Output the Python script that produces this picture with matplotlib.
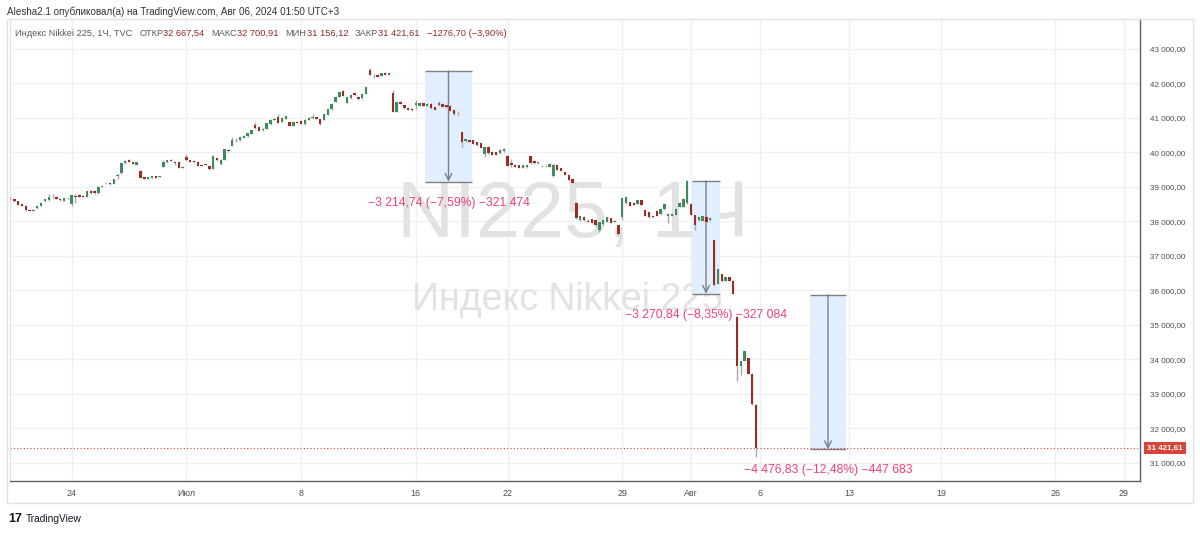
import numpy as np
import matplotlib.pyplot as plt
from matplotlib.patches import Rectangle
import matplotlib.transforms as mtransforms

# Nikkei 225 hourly bars (6 per trading day), Jun 19 (part) .. Aug 5 2024
opens = [
    38650, 38630, 38590, 38500,                      # Jun 19
    38450, 38330, 38310, 38370, 38450, 38580,        # Jun 20
    38610, 38700, 38710, 38630, 38600, 38660,        # Jun 21
    38500, 38740, 38770, 38720, 38710, 38880,        # Jun 24
    38880, 38810, 39000, 39100, 39090, 39080,        # Jun 25
    39300, 39390, 39680, 39770, 39720, 39640,        # Jun 26
    39460, 39270, 39220, 39250, 39300, 39280,        # Jun 27
    39580, 39710, 39770, 39700, 39710, 39540,        # Jun 28
    39870, 39770, 39750, 39720, 39620, 39640,        # Jul 1
    39600, 39510, 39830, 39650, 39780, 40070,        # Jul 2
    40190, 40340, 40340, 40420, 40460, 40540,        # Jul 3
    40780, 40730, 40640, 40680, 40810, 40930,        # Jul 4
    41020, 40880, 40960, 40880, 40770, 40880,        # Jul 5
    40900, 40810, 40930, 41000, 41020, 40960,        # Jul 8
    40930, 41080, 41240, 41460, 41600, 41770,        # Jul 9
    41440, 41560, 41710, 41610, 41560, 41690,        # Jul 10
    42390, 42240, 42240, 42210, 42310, 42240,        # Jul 11
    41710, 41170, 41460, 41370, 41270, 41260,        # Jul 12
    41370, 41350, 41430, 41350, 41410, 41310,        # Jul 16
    41380, 41410, 41370, 41350, 41220, 41130,        # Jul 17
    40590, 40320, 40360, 40340, 40290, 40260,        # Jul 18
    39950, 40160, 40020, 40000, 39970, 40030,        # Jul 19
    39900, 39700, 39640, 39620, 39550, 39560,        # Jul 22
    39880, 39750, 39680, 39610, 39590, 39580,        # Jul 23
    39300, 39630, 39530, 39430, 39340, 39230,        # Jul 24
    38520, 38030, 38130, 38020, 38050, 38030,        # Jul 25
    37740, 37910, 37980, 38080, 37990, 37880,        # Jul 26
    38130, 38520, 38560, 38540, 38510, 38610,        # Jul 29
    38320, 38270, 38140, 38290, 38200, 38340,        # Jul 30
    38150, 38150, 38180, 38420, 38420, 38520,        # Jul 31
    38510, 38170, 38030, 38010, 38120, 38030,        # Aug 1
    37450, 36180, 36470, 36280, 36370, 36280,        # Aug 2
    35230, 33800, 33950, 34030, 33580, 32667.54,     # Aug 5
]
highs = [
    38700, 38650, 38600, 38510,
    38460, 38350, 38340, 38460, 38550, 38650,
    38780, 38780, 38730, 38640, 38670, 38690,
    38760, 38780, 38790, 38770, 38890, 38900,
    38900, 39010, 39030, 39140, 39100, 39220,
    39400, 39690, 39760, 39800, 39730, 39720,
    39470, 39290, 39290, 39320, 39310, 39320,
    39780, 39780, 39790, 39720, 39720, 39590,
    39950, 39780, 39760, 39730, 39640, 39660,
    39620, 39920, 39840, 39800, 40090, 40090,
    40440, 40400, 40440, 40490, 40560, 40640,
    40880, 40740, 40690, 40860, 40950, 40980,
    41100, 41010, 41050, 40890, 40890, 40900,
    40920, 40950, 41010, 41100, 41030, 40970,
    41110, 41270, 41420, 41620, 41760, 41790,
    41600, 41670, 41720, 41620, 41700, 41890,
    42440, 42270, 42260, 42300, 42330, 42320,
    41790, 41470, 41480, 41380, 41290, 41270,
    41500, 41460, 41440, 41420, 41420, 41320,
    41490, 41420, 41380, 41360, 41230, 41200,
    40600, 40380, 40370, 40350, 40300, 40270,
    40150, 40170, 40030, 40010, 40080, 40110,
    39910, 39800, 39660, 39640, 39640, 39640,
    39900, 39760, 39730, 39630, 39630, 39680,
    39660, 39640, 39540, 39440, 39350, 39240,
    38560, 38150, 38140, 38050, 38060, 38040,
    37990, 38040, 38130, 38090, 38030, 37890,
    38670, 38730, 38570, 38560, 38620, 38620,
    38330, 38280, 38160, 38300, 38370, 38520,
    38230, 38230, 38370, 38550, 38660, 39200,
    38520, 38180, 38130, 38150, 38130, 38110,
    37460, 36620, 36480, 36380, 36380, 36290,
    35240, 33960, 34250, 34040, 33590, 32700.91,
]
lows = [
    38620, 38570, 38460, 38440,
    38300, 38300, 38300, 38360, 38440, 38570,
    38600, 38660, 38640, 38600, 38590, 38640,
    38450, 38520, 38700, 38690, 38700, 38800,
    38800, 38800, 38990, 39090, 39060, 39070,
    39230, 39380, 39670, 39720, 39650, 39620,
    39240, 39210, 39210, 39240, 39240, 39270,
    39570, 39700, 39740, 39640, 39530, 39530,
    39750, 39720, 39700, 39600, 39600, 39620,
    39490, 39500, 39750, 39630, 39770, 40020,
    40180, 40290, 40330, 40400, 40450, 40530,
    40670, 40610, 40620, 40670, 40800, 40920,
    40840, 40870, 40950, 40760, 40760, 40840,
    40820, 40800, 40920, 40970, 40950, 40800,
    40920, 41070, 41230, 41450, 41590, 41620,
    41430, 41550, 41640, 41520, 41550, 41680,
    42230, 42140, 42180, 42200, 42230, 42230,
    41160, 41160, 41390, 41260, 41220, 41200,
    41260, 41340, 41340, 41340, 41260, 41210,
    41340, 41310, 41290, 41190, 41070, 41090,
    40150, 40310, 40290, 40240, 40190, 40120,
    39850, 39960, 39910, 39910, 39960, 40020,
    39600, 39580, 39560, 39530, 39540, 39550,
    39660, 39670, 39670, 39570, 39570, 39570,
    39290, 39480, 39450, 39330, 39170, 39110,
    38070, 38020, 38020, 37970, 37940, 37870,
    37690, 37900, 37970, 37940, 37970, 37590,
    38030, 38510, 38430, 38460, 38500, 38460,
    38140, 38100, 38100, 38150, 38190, 38330,
    37950, 38140, 38170, 38410, 38410, 38510,
    38170, 37740, 38020, 38000, 37970, 38020,
    36130, 36170, 36250, 36270, 36270, 35880,
    33370, 33540, 33940, 33570, 32680, 31156.12,
]
closes = [
    38640, 38580, 38470, 38450,
    38320, 38310, 38320, 38450, 38540, 38640,
    38700, 38690, 38650, 38610, 38660, 38670,
    38750, 38700, 38710, 38700, 38880, 38810,
    38820, 39000, 39020, 39120, 39080, 39210,
    39330, 39680, 39750, 39730, 39660, 39710,
    39250, 39220, 39280, 39310, 39250, 39300,
    39710, 39770, 39750, 39690, 39540, 39580,
    39760, 39730, 39710, 39610, 39610, 39630,
    39510, 39900, 39760, 39780, 40080, 40030,
    40340, 40360, 40430, 40480, 40550, 40630,
    40690, 40620, 40680, 40850, 40940, 40960,
    40850, 41000, 41040, 40770, 40880, 40860,
    40830, 40940, 41000, 41010, 40960, 40810,
    41100, 41260, 41410, 41610, 41750, 41630,
    41590, 41660, 41650, 41530, 41690, 41880,
    42240, 42230, 42190, 42290, 42240, 42310,
    41170, 41460, 41400, 41270, 41230, 41210,
    41440, 41440, 41350, 41410, 41270, 41220,
    41440, 41320, 41300, 41200, 41100, 41150,
    40310, 40370, 40300, 40250, 40200, 40130,
    40140, 39970, 39920, 39920, 40070, 40100,
    39610, 39630, 39570, 39550, 39620, 39630,
    39680, 39680, 39720, 39590, 39610, 39670,
    39640, 39490, 39460, 39340, 39180, 39120,
    38080, 38140, 38030, 37990, 37950, 37880,
    37980, 38030, 38120, 37950, 38000, 37620,
    38660, 38690, 38440, 38470, 38610, 38470,
    38150, 38110, 38110, 38160, 38360, 38510,
    38200, 38220, 38360, 38540, 38650, 39170,
    38180, 37880, 38120, 38140, 37980, 38100,
    36140, 36610, 36260, 36370, 36280, 35890,
    33800, 33950, 34240, 33580, 32690, 31421.61,
]

# time axis: bar index of each date label
tick_pos = [16, 46, 76, 106, 130, 160, 178, 196, 219.4, 243.4, 273.2, 291.2]
tick_labels = ['24', 'Июл', '8', '16', '22', '29', 'Авг', '6', '13', '19', '26', '29']
price_ticks = list(range(31000, 44000, 1000))

# price-range measurements (bar index left/right, top & bottom price)
measure_x0 = [108.5, 178.3, 209.1]
measure_x1 = [120.6, 185.5, 218.5]
measure_top = [42360.0, 39170.0, 35870.0]
measure_bottom = [39145.26, 35899.16, 31393.17]
measure_labels = ['\u22123 214,74 (\u22127,59%) \u2212321 474',
                  '\u22123 270,84 (\u22128,35%) \u2212327 084',
                  '\u22124 476,83 (\u221212,48%) \u2212447 683']

last_close = 31421.61
header_vals = [('ОТКР', '32 667,54'), ('МАКС', '32 700,91'),
               ('МИН', '31 156,12'), ('ЗАКР', '31 421,61')]

UP = '#3e8b5f'
DOWN = '#9c2b22'
WICK = '#ababab'
GRID = '#eef0f4'
PINK = '#ef4179'
FONT = ['Liberation Sans', 'DejaVu Sans']
plt.rcParams['font.family'] = FONT

W, H = 1200, 533
fig = plt.figure(figsize=(W / 100, H / 100), dpi=100, facecolor='white')
ax = fig.add_axes([10 / W, 1 - 481 / H, 1130 / W, 462 / H])
ax.set_xlim(-0.13, 295.4)
ax.set_ylim(30470, 43861)

o = np.array(opens, dtype=float)
h = np.array(highs, dtype=float)
l = np.array(lows, dtype=float)
c = np.array(closes, dtype=float)
x = np.arange(len(c))
up = c >= o
colors = np.where(up, UP, DOWN)
bottom = np.minimum(o, c)
height = np.maximum(np.abs(c - o), 18)

# grid
for p in price_ticks:
    ax.axhline(p, color=GRID, lw=1, zorder=0)
for t in tick_pos:
    ax.axvline(t, color=GRID, lw=1, zorder=0)

# watermark
ax.text(0.498, 0.572, 'NI225, 1Ч', transform=ax.transAxes, fontsize=57,
        color='#e2e2e2', ha='center', va='center', zorder=0.5)
ax.text(0.493, 0.392, 'Индекс Nikkei 225', transform=ax.transAxes, fontsize=27,
        color='#e2e2e2', ha='center', va='center', zorder=0.5)

# measurement boxes
for x0, x1, top, bot, lab in zip(measure_x0, measure_x1, measure_top, measure_bottom, measure_labels):
    ax.add_patch(Rectangle((x0, bot), x1 - x0, top - bot, facecolor='#e1eefd',
                           edgecolor='none', zorder=1))
    ax.hlines([top, bot], x0, x1, color='#7d7f88', lw=1, zorder=2)
    xc = (x0 + x1) / 2
    ax.annotate('', xy=(xc, bot), xytext=(xc, top),
                arrowprops=dict(arrowstyle='->', color='#7d7f88', lw=1,
                                mutation_scale=12, shrinkA=0, shrinkB=0), zorder=2)
    ax.annotate(lab, xy=(xc, bot), xytext=(0, -21), textcoords='offset pixels',
                ha='center', va='center', fontsize=8.7, color=PINK, zorder=5)

# candles
ax.vlines(x, l, h, color=WICK, lw=1, zorder=3)
ax.bar(x, height, bottom=bottom, width=0.62, color=colors, linewidth=0, zorder=4)

# last price line + tag
ax.axhline(last_close, color='#e0463a', lw=0.8, ls=(0, (1, 2)), zorder=2)
trans = mtransforms.blended_transform_factory(ax.transAxes, ax.transData)
ax.text(1.0221, last_close, '31 421,61', transform=trans, ha='center', va='center',
        fontsize=5.8, fontweight='bold', color='white', clip_on=False,
        bbox=dict(boxstyle='square,pad=0.35', fc='#d9443a', ec='none'))

# axes styling
ax.yaxis.tick_right()
ax.set_yticks(price_ticks)
ax.set_yticklabels([f'{p:,.2f}'.replace(',', ' ').replace('.', ',') for p in price_ticks])
ax.set_xticks(tick_pos)
ax.set_xticklabels(tick_labels)
ax.tick_params(axis='y', length=0, pad=7, labelsize=5.8, labelcolor='#4c4c4c')
ax.tick_params(axis='x', length=0, pad=6, labelsize=6.4, labelcolor='#4c4c4c')
for s in ['top', 'left']:
    ax.spines[s].set_color('#e0e3eb')
for s in ['bottom', 'right']:
    ax.spines[s].set_color('#5d606b')
    ax.spines[s].set_linewidth(1)

# outer frame
fig.add_artist(Rectangle((7 / W, 1 - 503 / H), 1186 / W, 484 / H, transform=fig.transFigure,
                         fill=False, ec='#e0e3eb', lw=1))

# header
fig.text(7 / W, 1 - 12 / H, 'Alesha2.1 опубликовал(а) на TradingView.com, Авг 06, 2024 01:50 UTC+3',
         fontsize=7.1, color='#333333', va='center')
prev = fig.text(15 / W, 1 - 33 / H, 'Индекс Nikkei 225, 1Ч, TVC', fontsize=6.7,
                color='#5a5a5a', va='center')
for name, val in header_vals:
    prev = ax.annotate(name, xy=(1, 0), xycoords=prev, xytext=(5, 0), textcoords='offset points',
                       fontsize=6.7, color='#5a5a5a', va='bottom')
    prev = ax.annotate(val, xy=(1, 0), xycoords=prev, xytext=(0, 0), textcoords='offset points',
                       fontsize=6.7, color='#8e2a22', va='bottom')
ax.annotate('\u22121276,70 (\u22123,90%)', xy=(1, 0), xycoords=prev, xytext=(5, 0),
            textcoords='offset points', fontsize=6.7, color='#8e2a22', va='bottom')

# footer logo
fig.text(8 / W, 1 - 519 / H, '17', fontsize=9, fontweight='heavy', color='#131722', va='center')
fig.text(26 / W, 1 - 519 / H, 'TradingView', fontsize=7.3, color='#131722', va='center')

fig.savefig('out.png', dpi=100, facecolor='white')
